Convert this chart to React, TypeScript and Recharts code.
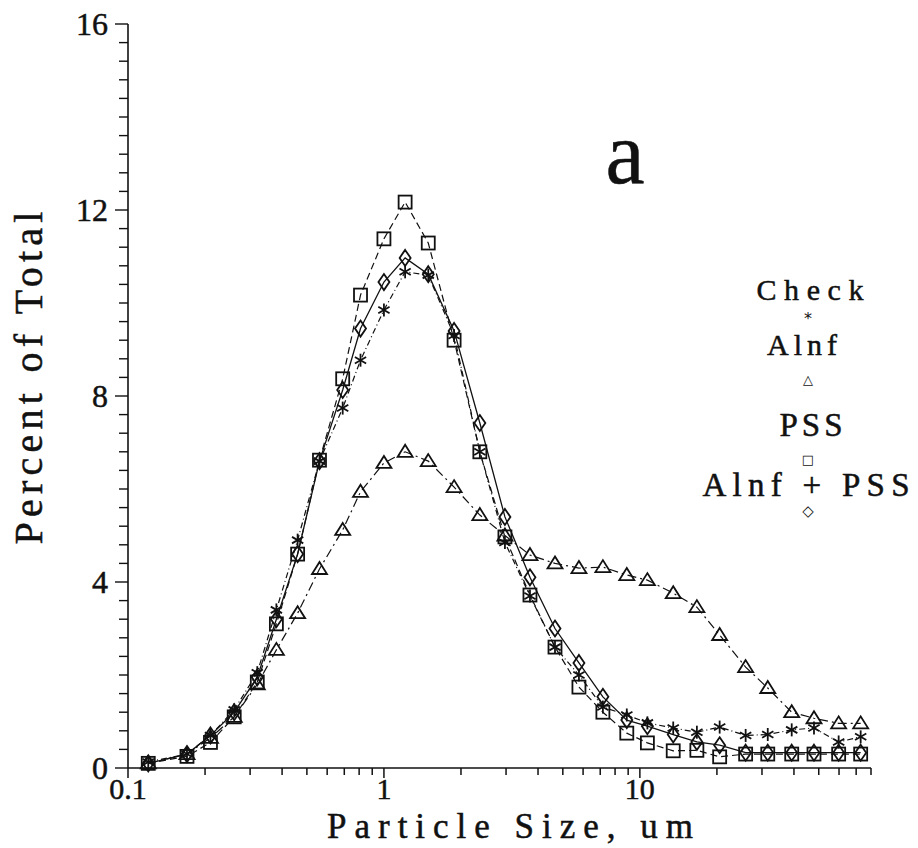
import React from "react";
import { CartesianGrid, Line, LineChart, XAxis, YAxis } from "recharts";

// particle size channels, um
const sizes = [
  0.12, 0.17, 0.21, 0.26, 0.32, 0.38, 0.46, 0.56, 0.69, 0.81, 1.0, 1.21, 1.49, 1.88, 2.37, 2.97,
  3.72, 4.66, 5.78, 7.17, 8.89, 10.7, 13.5, 16.7, 20.5, 25.9, 31.6, 39.2, 47.9, 59.8, 72.9,
];

const check = [
  0.13, 0.3, 0.7, 1.25, 2.05, 3.4, 4.9, 6.6, 7.74, 8.77, 9.85, 10.67, 10.6, 9.3, 6.8, 4.85,
  3.7, 2.6, 2.0, 1.31, 1.14, 0.97, 0.86, 0.77, 0.88, 0.7, 0.72, 0.82, 0.86, 0.56, 0.67,
];

const alnf = [
  0.1, 0.3, 0.65, 1.1, 1.8, 2.54, 3.33, 4.28, 5.12, 5.94, 6.56, 6.8, 6.6, 6.04, 5.44, 5.0,
  4.58, 4.4, 4.3, 4.32, 4.15, 4.04, 3.76, 3.46, 2.86, 2.17, 1.72, 1.2, 1.07, 0.96, 0.96,
];

const pss = [
  0.1, 0.25, 0.55, 1.1, 1.85, 3.1, 4.6, 6.62, 8.37, 10.17, 11.38, 12.17, 11.29, 9.2, 6.8, 4.97,
  3.72, 2.6, 1.74, 1.2, 0.75, 0.54, 0.37, 0.38, 0.24, 0.3, 0.3, 0.3, 0.3, 0.3, 0.3,
];

const alnfPss = [
  0.1, 0.3, 0.7, 1.2, 1.95, 3.2, 4.6, 6.6, 8.13, 9.45, 10.45, 10.97, 10.62, 9.4, 7.42, 5.4,
  4.1, 3.0, 2.26, 1.53, 1.03, 0.9, 0.72, 0.56, 0.49, 0.33, 0.33, 0.33, 0.33, 0.33, 0.33,
];

const xTicks = [
  0.1, 0.2, 0.3, 0.4, 0.5, 0.6, 0.7, 0.8, 0.9, 1, 2, 3, 4, 5, 6, 7, 8, 9, 10, 20, 30, 40, 50, 60, 70, 80,
];
const xLabels = [0.1, 1, 10];
const yLabels = [0, 4, 8, 12, 16];
const yTicks = Array.from({ length: 41 }, (_, i) => Math.round(i * 4) / 10);

const data = sizes.map((x, i) => ({
  x,
  check: check[i],
  alnf: alnf[i],
  pss: pss[i],
  alnfPss: alnfPss[i],
}));

const INK = "#111";
const serif = "'Liberation Serif', 'DejaVu Serif', serif";
const sym = "'DejaVu Sans', sans-serif";
const bolden = { stroke: INK, strokeWidth: 0.5 };

function Star({ cx, cy }: any) {
  const r = 6.5;
  const dx = r * 0.866;
  const dy = r * 0.5;
  return (
    <g stroke={INK} strokeWidth={1.8}>
      <line x1={cx} y1={cy - r} x2={cx} y2={cy + r} />
      <line x1={cx - dx} y1={cy - dy} x2={cx + dx} y2={cy + dy} />
      <line x1={cx - dx} y1={cy + dy} x2={cx + dx} y2={cy - dy} />
    </g>
  );
}

function Tri({ cx, cy }: any) {
  return (
    <polygon
      points={`${cx},${cy - 7} ${cx - 7.5},${cy + 5} ${cx + 7.5},${cy + 5}`}
      fill="none"
      stroke={INK}
      strokeWidth={1.8}
    />
  );
}

function Sq({ cx, cy }: any) {
  return <rect x={cx - 6.5} y={cy - 6.5} width={13} height={13} fill="none" stroke={INK} strokeWidth={1.8} />;
}

function Dia({ cx, cy }: any) {
  return (
    <polygon
      points={`${cx},${cy - 8} ${cx + 5.5},${cy} ${cx},${cy + 8} ${cx - 5.5},${cy}`}
      fill="none"
      stroke={INK}
      strokeWidth={1.8}
    />
  );
}

function XTick({ x, y, payload }: any) {
  const v = payload.value;
  const major = xLabels.includes(v);
  return (
    <g>
      <line x1={x} y1={y} x2={x} y2={y + (major ? 10 : 7)} stroke={INK} strokeWidth={1.5} />
      {major && (
        <text x={x} y={y + 31} textAnchor="middle" style={{ fontFamily: serif, fontSize: 30, ...bolden }} fill={INK}>
          {v}
        </text>
      )}
    </g>
  );
}

function YTick({ x, y, payload }: any) {
  const v = payload.value;
  const major = yLabels.includes(v);
  return (
    <g>
      <line x1={x} y1={y} x2={x - (major ? 13 : 9)} y2={y} stroke={INK} strokeWidth={1.4} />
      {major && (
        <text x={x - 20} y={y + 11} textAnchor="end" style={{ fontFamily: serif, fontSize: 32, ...bolden }} fill={INK}>
          {v}
        </text>
      )}
    </g>
  );
}

export default function App() {
  return (
    <div style={{ position: "absolute", left: 0, top: 0, width: 918, height: 848, background: "#fff" }}>
      <LineChart width={918} height={848} data={data} margin={{ top: 24, right: 47, bottom: 40, left: 68 }}>
        <CartesianGrid stroke="none" />
        <XAxis
          dataKey="x"
          type="number"
          scale="log"
          domain={[0.1, 80]}
          ticks={xTicks}
          allowDataOverflow
          height={40}
          tickSize={0}
          tickMargin={0}
          tickLine={false}
          axisLine={{ stroke: INK, strokeWidth: 1.6 }}
          tick={<XTick />}
          interval={0}
        />
        <YAxis
          type="number"
          domain={[0, 16]}
          ticks={yTicks}
          width={60}
          tickSize={0}
          tickMargin={0}
          tickLine={false}
          axisLine={{ stroke: INK, strokeWidth: 1.6 }}
          tick={<YTick />}
          interval={0}
        />
        <Line
          dataKey="alnf"
          stroke={INK}
          strokeWidth={1.2}
          strokeDasharray="9 4 2 4"
          isAnimationActive={false}
          dot={(p: any) => <Tri key={`t${p.index}`} cx={p.cx} cy={p.cy} />}
        />
        <Line
          dataKey="check"
          stroke={INK}
          strokeWidth={1.2}
          strokeDasharray="6 3 1 3"
          isAnimationActive={false}
          dot={(p: any) => <Star key={`s${p.index}`} cx={p.cx} cy={p.cy} />}
        />
        <Line
          dataKey="pss"
          stroke={INK}
          strokeWidth={1.2}
          strokeDasharray="7 4"
          isAnimationActive={false}
          dot={(p: any) => <Sq key={`q${p.index}`} cx={p.cx} cy={p.cy} />}
        />
        <Line
          dataKey="alnfPss"
          stroke={INK}
          strokeWidth={1.3}
          isAnimationActive={false}
          dot={(p: any) => <Dia key={`d${p.index}`} cx={p.cx} cy={p.cy} />}
        />
      </LineChart>
      <svg
        width={918}
        height={848}
        style={{ position: "absolute", left: 0, top: 0, pointerEvents: "none", fontFamily: serif }}
        fill={INK}
      >
        <text
          x={378}
          y={42}
          transform="rotate(-90 42 378) translate(-336 336)"
          style={{ fontSize: 40, ...bolden }}
          textAnchor="middle"
          textLength={333}
          lengthAdjust="spacing"
        >
          Percent of Total
        </text>
        <text
          x={510}
          y={838}
          style={{ fontSize: 35, ...bolden }}
          textAnchor="middle"
          textLength={366}
          lengthAdjust="spacing"
        >
          Particle Size, um
        </text>
        <text x={625} y={183} style={{ fontSize: 88, ...bolden }} textAnchor="middle">
          a
        </text>
        <text
          x={810}
          y={300}
          style={{ fontSize: 30, ...bolden }}
          textAnchor="middle"
          textLength={107}
          lengthAdjust="spacing"
        >
          Check
        </text>
        <text x={808} y={324} style={{ fontSize: 16, fontFamily: sym }} textAnchor="middle">
          *
        </text>
        <text
          x={802}
          y={355}
          style={{ fontSize: 30, ...bolden }}
          textAnchor="middle"
          textLength={70}
          lengthAdjust="spacing"
        >
          Alnf
        </text>
        <text x={808} y={384} style={{ fontSize: 13, fontFamily: sym }} textAnchor="middle">
          △
        </text>
        <text
          x={811}
          y={436}
          style={{ fontSize: 33, ...bolden }}
          textAnchor="middle"
          textLength={63}
          lengthAdjust="spacing"
        >
          PSS
        </text>
        <text x={808} y={464} style={{ fontSize: 13, fontFamily: sym }} textAnchor="middle">
          □
        </text>
        <text
          x={806}
          y={496}
          style={{ fontSize: 33, ...bolden }}
          textAnchor="middle"
          textLength={207}
          lengthAdjust="spacing"
        >
          Alnf + PSS
        </text>
        <text x={808} y={516} style={{ fontSize: 15, fontFamily: sym }} textAnchor="middle">
          ◇
        </text>
      </svg>
    </div>
  );
}
